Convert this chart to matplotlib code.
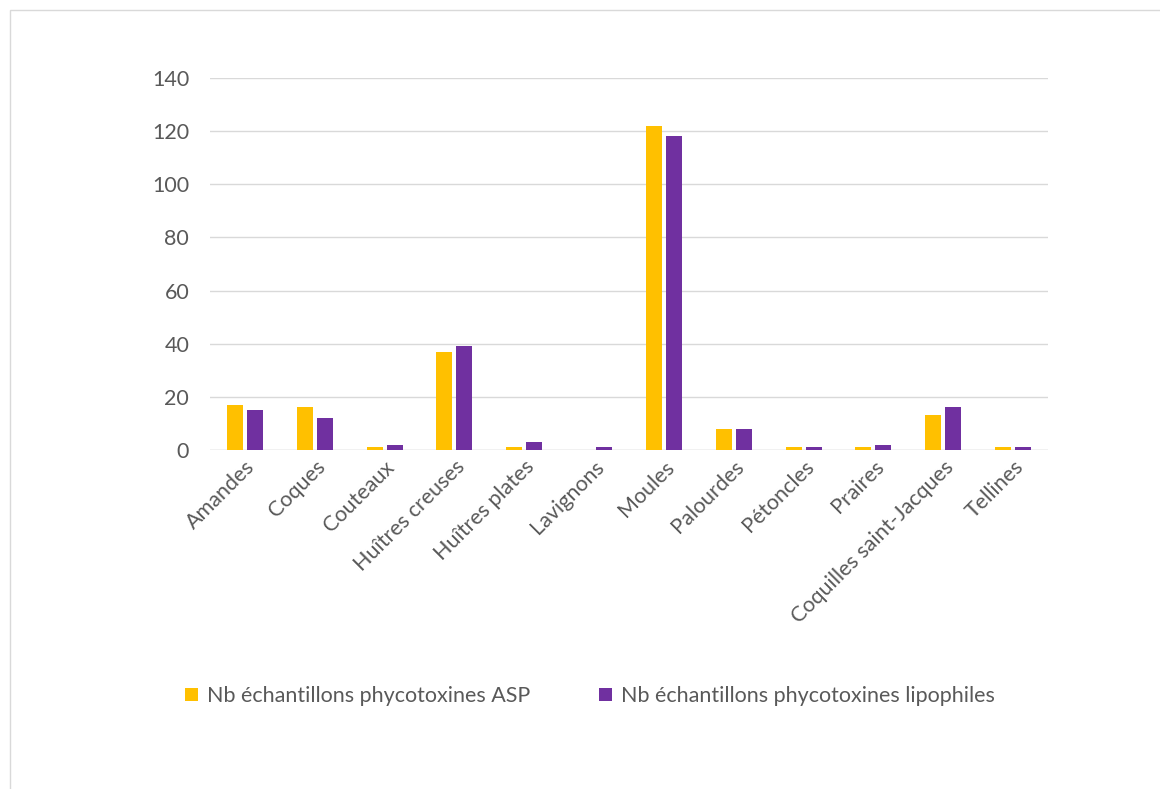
import matplotlib
matplotlib.use("Agg")
import matplotlib.pyplot as plt
import numpy as np
from matplotlib.patches import Rectangle

categories = ["Amandes", "Coques", "Couteaux", "Huîtres creuses", "Huîtres plates",
              "Lavignons", "Moules", "Palourdes", "Pétoncles", "Praires",
              "Coquilles saint-Jacques", "Tellines"]
asp = [17, 16, 1, 37, 1, 0, 122, 8, 1, 1, 13, 1]
lipo = [15, 12, 2, 39, 3, 1, 118, 8, 1, 2, 16, 1]
series_names = ["Nb échantillons phycotoxines ASP", "Nb échantillons phycotoxines lipophiles"]
yticks = [0, 20, 40, 60, 80, 100, 120, 140]

GOLD = "#FFC000"
PURPLE = "#7030A0"
GRID = "#D9D9D9"
TXT = "#595959"

plt.rcParams["font.family"] = ["Lato", "DejaVu Sans"]

fig = plt.figure(figsize=(11.6, 7.89), dpi=100)
# light frame around the chart area
fig.patches.append(Rectangle((10 / 1160, -0.1), 1.2, 1 - 10 / 789 + 0.1,
                             transform=fig.transFigure, fill=False, ec=GRID, lw=1))
ax = fig.add_axes([210 / 1160, 1 - 450 / 789, 838 / 1160, 372 / 789])

x = np.arange(len(categories))
w = 0.23
ax.bar(x - 0.143, asp, w, color=GOLD, label=series_names[0], zorder=3)
ax.bar(x + 0.143, lipo, w, color=PURPLE, label=series_names[1], zorder=3)

ax.set_xlim(-0.5, len(categories) - 0.5)
ax.set_ylim(0, 140)
ax.set_yticks(yticks)
ax.yaxis.grid(True, color=GRID, lw=1, zorder=0)
for s in ax.spines.values():
    s.set_visible(False)
ax.axhline(0, color=GRID, lw=1, zorder=2)
ax.tick_params(axis="both", length=0, colors=TXT, labelsize=15.5)
ax.tick_params(axis="y", pad=15)
ax.tick_params(axis="x", pad=5)
ax.set_xticks(x)
ax.set_xticklabels(categories, rotation=45, ha="right", rotation_mode="anchor")

leg = fig.legend(loc="center", bbox_to_anchor=(0.5 + 10 / 1160, 1 - 696 / 789), ncol=2,
                 frameon=False, fontsize=15.5, handlelength=0.6, handleheight=0.6,
                 columnspacing=3.2, handletextpad=0.4)
for t in leg.get_texts():
    t.set_color(TXT)

fig.savefig("out.png", dpi=100)
